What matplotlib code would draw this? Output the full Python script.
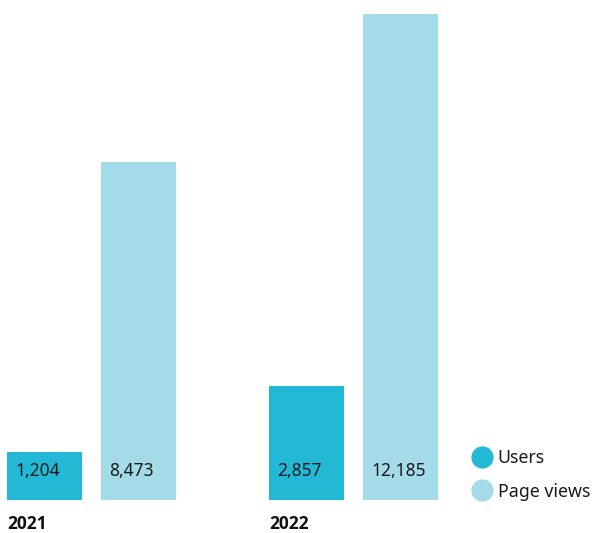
import matplotlib
matplotlib.use("Agg")
import matplotlib.pyplot as plt
from matplotlib.lines import Line2D

plt.rcParams['font.family'] = ['Noto Sans', 'DejaVu Sans']

years = ["2021", "2022"]
series = ["Users", "Page views"]
users = [1204, 2857]
page_views = [8473, 12185]
colors = ["#22B8D6", "#A3DBE8"]

W, H = 594, 533
fig = plt.figure(figsize=(W / 100, H / 100), dpi=100)
# axes spans pixel rows 14..500 (top of tallest bar to baseline)
ax = fig.add_axes([0, 1 - 500 / H, 1, 486 / H])
ax.set_xlim(0, W)
ax.set_ylim(0, max(page_views))
ax.axis("off")

group_start = 7
group_step = 262
bar_w = 75
bar_step = 94

values = [users, page_views]
for si, (name, vals) in enumerate(zip(series, values)):
    xs = [group_start + gi * group_step + si * bar_step for gi in range(len(years))]
    ax.bar(xs, vals, width=bar_w, align="edge", color=colors[si], label=name)
    for x, v in zip(xs, vals):
        ax.annotate(f"{v:,}", xy=(x, 0), xytext=(8, 24), textcoords="offset pixels",
                    ha="left", va="baseline", fontsize=12.5, color="#1a1a1a")

for gi, yr in enumerate(years):
    fig.text((group_start + gi * group_step) / W, 1 - 524 / H, yr, ha="left", va="center",
             fontsize=12.5, fontweight="bold", color="#111111",
             family=['Open Sans', 'DejaVu Sans'])

handles = [Line2D([], [], marker="o", linestyle="none", markersize=15,
                  markerfacecolor=c, markeredgecolor=c) for c in colors]
fig.legend(handles, series, loc="center left", bbox_to_anchor=(462 / W, 1 - 475 / H),
           frameon=False, fontsize=12.8, handletextpad=0.3, labelspacing=0.85,
           borderpad=0, handlelength=1.2, labelcolor="#1a1a1a")

fig.savefig("out.png", dpi=100)
